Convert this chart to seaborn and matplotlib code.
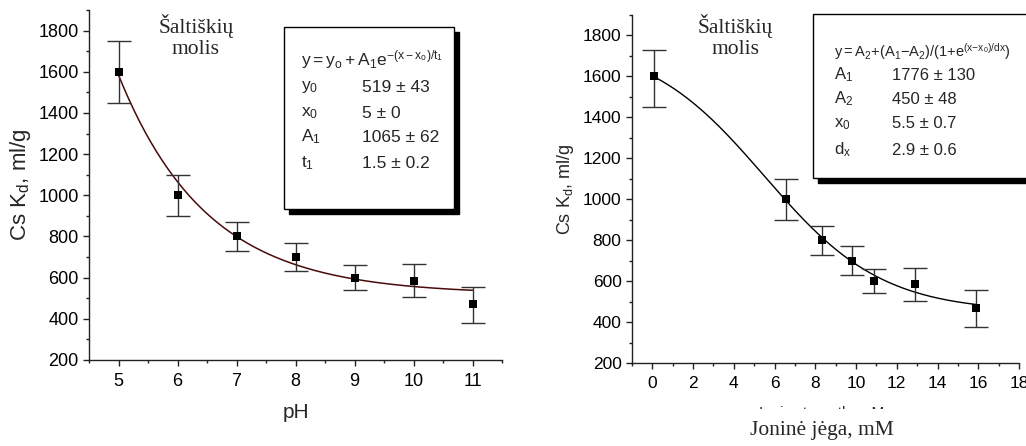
import numpy as np
import pandas as pd
import matplotlib
matplotlib.use("Agg")
import matplotlib.pyplot as plt
import seaborn as sns
from matplotlib.patches import Rectangle
from matplotlib.ticker import MultipleLocator

# ---------------- data ----------------
ph = [5, 6, 7, 8, 9, 10, 11]
kd_ph = [1600, 1000, 800, 700, 600, 585, 470]
err_lo_ph = [1450, 900, 730, 630, 540, 505, 380]
err_hi_ph = [1750, 1100, 870, 770, 660, 665, 555]

ionic = [0.1, 6.55, 8.35, 9.8, 10.9, 12.9, 15.9]
kd_ion = [1600, 1000, 800, 700, 600, 585, 468]
err_lo_ion = [1450, 900, 730, 630, 540, 505, 377]
err_hi_ion = [1727, 1100, 870, 770, 660, 665, 557]

# fit parameters shown in the boxes
exp_par = {"y0": 519, "x0": 5, "A1": 1065, "t1": 1.5}
sig_par = {"A1": 1776, "A2": 450, "x0": 5.5, "dx": 2.9}

left_xticks = [5, 6, 7, 8, 9, 10, 11]
right_xticks = [0, 2, 4, 6, 8, 10, 12, 14, 16, 18]
yticks = [200, 400, 600, 800, 1000, 1200, 1400, 1600, 1800]

title_lines = ["Šaltiškių", "molis"]

sns.set_theme(style="ticks")
plt.rcParams["font.family"] = ["Liberation Sans", "DejaVu Sans"]
plt.rcParams["mathtext.fontset"] = "custom"
plt.rcParams["mathtext.rm"] = "Liberation Sans"
plt.rcParams["mathtext.it"] = "Liberation Sans"

W, H = 1026, 446
fig = plt.figure(figsize=(W / 100, H / 100), dpi=100)
fig.patch.set_facecolor("white")

def px(x0, y0, x1, y1):
    return [x0 / W, 1 - y1 / H, (x1 - x0) / W, (y1 - y0) / H]

axL = fig.add_axes(px(89, 10, 502, 360))
axR = fig.add_axes(px(632, 15, 1019, 363))

def style_axis(ax, lsize):
    for s in ["top", "right"]:
        ax.spines[s].set_visible(False)
    for s in ["left", "bottom"]:
        ax.spines[s].set_color("#222222")
        ax.spines[s].set_linewidth(1.0)
    ax.tick_params(which="major", direction="out", length=4.5, width=1,
                   color="#222222", labelsize=lsize, pad=3, labelcolor="black")
    ax.tick_params(axis="x", which="major", pad=5)
    ax.tick_params(which="minor", direction="out", length=2.5, width=1,
                   color="#222222")
    ax.set_facecolor("white")
    ax.grid(False)

# ---- left panel ----
dfL = pd.DataFrame({"pH": ph, "Kd": kd_ph})
xs = np.linspace(min(ph), max(ph), 200)
fitL = exp_par["y0"] + exp_par["A1"] * np.exp(-(xs - exp_par["x0"]) / exp_par["t1"])
sns.lineplot(x=xs, y=fitL, ax=axL, color="#4a0a0a", linewidth=1.1, zorder=2)
axL.errorbar(ph, kd_ph,
             yerr=[np.array(kd_ph) - np.array(err_lo_ph), np.array(err_hi_ph) - np.array(kd_ph)],
             fmt="none", ecolor="#333333", elinewidth=1, capsize=8.5, capthick=1, zorder=3)
sns.scatterplot(data=dfL, x="pH", y="Kd", ax=axL, marker="s", s=30,
                color="black", edgecolor="black", linewidth=0, zorder=4)
axL.set_xlim(4.5, 11.5)
axL.set_ylim(200, 1900)
axL.set_xticks(left_xticks)
axL.set_yticks(yticks)
axL.xaxis.set_minor_locator(MultipleLocator(0.5))
axL.yaxis.set_minor_locator(MultipleLocator(100))
style_axis(axL, 13)
axL.set_xlabel("pH", fontsize=15, labelpad=9)
axL.set_ylabel(r"Cs K$_{\mathregular{d}}$, ml/g", fontsize=16, labelpad=4)

# ---- right panel ----
dfR = pd.DataFrame({"I": ionic, "Kd": kd_ion})
xr = np.linspace(min(ionic), max(ionic), 200)
fitR = sig_par["A2"] + (sig_par["A1"] - sig_par["A2"]) / (1 + np.exp((xr - sig_par["x0"]) / sig_par["dx"]))
sns.lineplot(x=xr, y=fitR, ax=axR, color="black", linewidth=1.0, zorder=2)
axR.errorbar(ionic, kd_ion,
             yerr=[np.array(kd_ion) - np.array(err_lo_ion), np.array(err_hi_ion) - np.array(kd_ion)],
             fmt="none", ecolor="#333333", elinewidth=1, capsize=8.5, capthick=1, zorder=3)
sns.scatterplot(data=dfR, x="I", y="Kd", ax=axR, marker="s", s=30,
                color="black", edgecolor="black", linewidth=0, zorder=4)
axR.set_xlim(-1, 18)
axR.set_ylim(200, 1900)
axR.set_xticks(right_xticks)
axR.set_yticks(yticks)
axR.xaxis.set_minor_locator(MultipleLocator(1))
axR.yaxis.set_minor_locator(MultipleLocator(100))
style_axis(axR, 12.5)
axR.set_xlabel("")
axR.set_ylabel(r"Cs K$_{\mathregular{d}}$, ml/g", fontsize=13, labelpad=5)

# sample titles (serif)
for cx in (196, 735):
    for s, yy in zip(title_lines, (26, 50)):
        fig.text(cx / W, 1 - yy / H, s, ha="center", va="center", fontsize=15.5,
                 family="Liberation Serif")

# partially hidden old axis title + serif axis title
fig.text(822 / W, 1 - 413 / H, "Ionic strength, mM", ha="center", va="center",
         fontsize=11, zorder=1)
fig.patches.append(Rectangle((0.6, 0), 0.4, 1 - 409 / H, transform=fig.transFigure,
                             facecolor="white", edgecolor="none", zorder=2))
fig.text(822 / W, 1 - 431 / H, "Joninė jėga, mM", ha="center", va="center",
         fontsize=15.5, family="Liberation Serif", zorder=3)

# ---- fit boxes ----
def add_box(x0, y0, x1, y1, sh=5):
    fig.patches.append(Rectangle(((x0 + sh) / W, 1 - (y1 + sh) / H),
                                 (x1 - x0) / W, (y1 - y0) / H, transform=fig.transFigure,
                                 facecolor="black", edgecolor="black", zorder=5))
    fig.patches.append(Rectangle((x0 / W, 1 - y1 / H), (x1 - x0) / W, (y1 - y0) / H,
                                 transform=fig.transFigure, facecolor="white",
                                 edgecolor="black", linewidth=1, zorder=6))

add_box(284, 27, 454, 209)
add_box(813, 14, 1040, 178)

def ftxt(x, y, s, size=12):
    fig.text(x / W, 1 - y / H, s, ha="left", va="center", fontsize=size, zorder=7)

left_lines = [
    (r"$\mathregular{y = y_o + A_1e^{-(x - x_o)/t_1}}$", None),
    (r"$\mathregular{y_0}$", "519 ± 43"),
    (r"$\mathregular{x_0}$", "5 ± 0"),
    (r"$\mathregular{A_1}$", "1065 ± 62"),
    (r"$\mathregular{t_1}$", "1.5 ± 0.2"),
]
for (lab, val), yy in zip(left_lines, [60, 87, 113, 137, 163]):
    ftxt(301, yy, lab, size=12.5)
    if val:
        ftxt(362, yy, val, size=12.5)

right_lines = [
    (r"$\mathregular{y{=}A_2{+}(A_1{-}A_2)/(1{+}e^{(x{-}x_0)/dx})}$", None),
    (r"$\mathregular{A_1}$", "1776 ± 130"),
    (r"$\mathregular{A_2}$", "450 ± 48"),
    (r"$\mathregular{x_0}$", "5.5 ± 0.7"),
    (r"$\mathregular{d_x}$", "2.9 ± 0.6"),
]
for i, ((lab, val), yy) in enumerate(zip(right_lines, [52, 75, 99, 124, 150])):
    ftxt(834, yy, lab, size=10.5 if i == 0 else 12)
    if val:
        ftxt(892, yy, val, size=12)

fig.savefig("out.png", dpi=100, facecolor="white")
